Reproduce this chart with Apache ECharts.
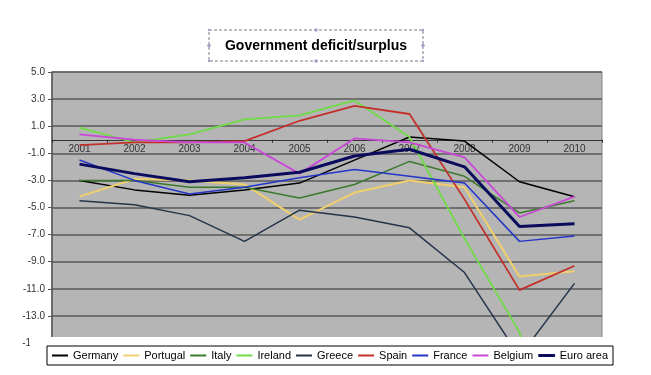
<!DOCTYPE html>
<html><head><meta charset="utf-8">
<script src="https://cdn.jsdelivr.net/npm/echarts@6/dist/echarts.min.js"></script>
<style>html,body{margin:0;padding:0;background:#fff}#c{width:651px;height:375px}</style>
</head><body><div id="c"></div>
<script>
const years = ['2001','2002','2003','2004','2005','2006','2007','2008','2009','2010'];
const germany = [-3.0, -3.7, -4.1, -3.7, -3.2, -1.5, 0.2, -0.1, -3.1, -4.2];
const portugal = [-4.2, -2.9, -3.0, -3.3, -5.9, -3.9, -3.0, -3.5, -10.1, -9.7];
const italy = [-3.0, -3.0, -3.5, -3.5, -4.3, -3.3, -1.6, -2.7, -5.4, -4.5];
const ireland = [0.9, -0.2, 0.4, 1.5, 1.8, 2.9, 0.2, -7.3, -14.2, -32.0];
const greece = [-4.5, -4.8, -5.6, -7.5, -5.2, -5.7, -6.5, -9.8, -16.0, -10.6];
const spain = [-0.4, -0.2, -0.2, -0.1, 1.4, 2.5, 1.9, -4.4, -11.1, -9.3];
const france = [-1.5, -3.0, -4.0, -3.5, -2.8, -2.2, -2.7, -3.2, -7.5, -7.1];
const belgium = [0.4, 0.0, -0.2, -0.2, -2.5, 0.1, -0.2, -1.3, -5.7, -4.2];
const euroArea = [-1.8, -2.5, -3.1, -2.8, -2.4, -1.2, -0.7, -2.0, -6.4, -6.2];
const yMin = -15, yMax = 5, yStep = 2;

const font = "'Liberation Sans', Arial, sans-serif";
const seriesDefs = [
  {name: 'Germany', data: germany, color: '#000000', width: 1.5},
  {name: 'Portugal', data: portugal, color: '#f0cf6c', width: 2},
  {name: 'Italy', data: italy, color: '#3b7a2c', width: 1.5},
  {name: 'Ireland', data: ireland, color: '#6fdc45', width: 1.8},
  {name: 'Greece', data: greece, color: '#253449', width: 1.5},
  {name: 'Spain', data: spain, color: '#c3302b', width: 1.8},
  {name: 'France', data: france, color: '#2435c8', width: 1.5},
  {name: 'Belgium', data: belgium, color: '#c948d8', width: 1.8},
  {name: 'Euro area', data: euroArea, color: '#0b0b5e', width: 3}
];

const gridTop = 72, gridBottom = 32, H = 375;
const plotH = H - gridTop - gridBottom;
const zeroY = gridTop + plotH * (yMax - 0) / (yMax - yMin);
const bottomY = H - gridBottom;

const chart = echarts.init(document.getElementById('c'), null, {renderer: 'canvas'});
const handleStyle = {fill: '#a3a3c9'};
chart.setOption({
  animation: false,
  backgroundColor: '#ffffff',
  textStyle: {fontFamily: font},
  grid: {left: 52, right: 49, top: gridTop, bottom: gridBottom, show: true, backgroundColor: '#b5b5b5', borderColor: '#808080', borderWidth: 1},
  xAxis: {
    type: 'category', data: years, boundaryGap: true, position: 'bottom',
    offset: -(bottomY - zeroY),
    axisLine: {onZero: false, lineStyle: {color: '#333', width: 1}},
    axisTick: {show: true, length: 3, lineStyle: {color: '#333'}},
    axisLabel: {fontSize: 10, color: '#333', margin: 4, fontFamily: font},
    splitLine: {show: false}
  },
  yAxis: {
    type: 'value', min: yMin, max: yMax, interval: yStep,
    axisLine: {show: true, lineStyle: {color: '#555', width: 1.5}},
    axisTick: {show: true, length: 4, lineStyle: {color: '#555'}},
    axisLabel: {fontSize: 10, color: '#333', margin: 7, fontFamily: font, formatter: v => v.toFixed(1)},
    splitLine: {show: true, lineStyle: {color: '#5a5a5a', width: 1.5}}
  },
  legend: {
    left: 47, top: 346, orient: 'horizontal',
    padding: [4, 5], itemGap: 5, itemWidth: 16, itemHeight: 2, icon: 'rect',
    borderColor: '#000', borderWidth: 1, backgroundColor: '#fff',
    textStyle: {fontSize: 11, color: '#000', fontFamily: font},
    data: seriesDefs.map(s => s.name === 'Euro area'
      ? {name: s.name, itemStyle: {borderColor: s.color, borderWidth: 1}}
      : {name: s.name}),
    z: 20
  },
  graphic: [
    {type: 'rect', z: 10, shape: {x: 30, y: 337, width: 621, height: 38}, style: {fill: '#ffffff'}},
    {type: 'rect', z: 10, shape: {x: 209, y: 30, width: 214, height: 31}, style: {fill: '#fff', stroke: '#7a7a8a', lineWidth: 1, lineDash: [3, 2]}},
    {type: 'text', z: 11, style: {text: 'Government deficit/surplus', x: 316, y: 46, align: 'center', verticalAlign: 'middle', font: 'bold 14px ' + font, fill: '#000'}},
    {type: 'circle', z: 12, shape: {cx: 316, cy: 30, r: 1.8}, style: handleStyle},
    {type: 'circle', z: 12, shape: {cx: 316, cy: 61, r: 1.8}, style: handleStyle},
    {type: 'circle', z: 12, shape: {cx: 209, cy: 45.5, r: 1.8}, style: handleStyle},
    {type: 'circle', z: 12, shape: {cx: 423, cy: 45.5, r: 1.8}, style: handleStyle},
    {type: 'circle', z: 12, shape: {cx: 209, cy: 30, r: 1.2}, style: handleStyle},
    {type: 'circle', z: 12, shape: {cx: 423, cy: 30, r: 1.2}, style: handleStyle},
    {type: 'circle', z: 12, shape: {cx: 209, cy: 61, r: 1.2}, style: handleStyle},
    {type: 'circle', z: 12, shape: {cx: 423, cy: 61, r: 1.2}, style: handleStyle}
  ],
  series: seriesDefs.map(s => ({
    name: s.name, type: 'line', data: s.data, symbol: 'none', clip: true,
    lineStyle: {color: s.color, width: s.width}, itemStyle: {color: s.color},
    emphasis: {disabled: true}
  }))
});
</script></body></html>
